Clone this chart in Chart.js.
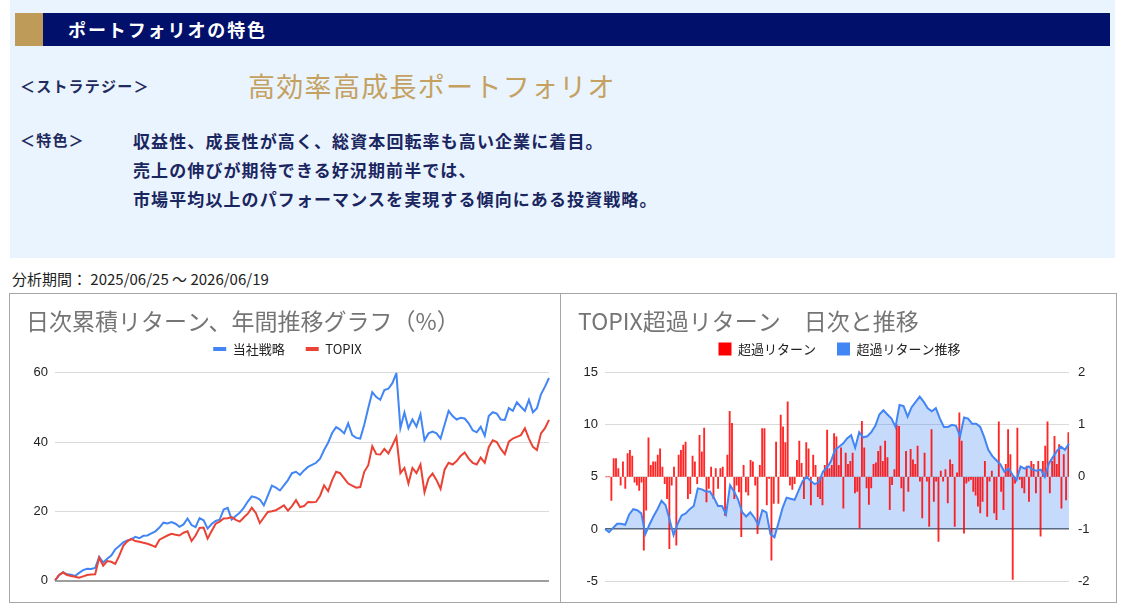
<!DOCTYPE html>
<html lang="ja">
<head>
<meta charset="utf-8">
<script src="https://cdn.jsdelivr.net/npm/chart.js@4.4.1/dist/chart.umd.min.js"></script>
<style>
  body { margin: 0; width: 1128px; height: 615px; overflow: hidden; background: #fff; position: relative;
         font-family: "Noto Sans CJK JP", "Noto Sans", sans-serif; }
  .abs { position: absolute; }
  .panel { left: 10px; top: 0; width: 1105px; height: 258px; background: #EAF4FE; }
  .gold { left: 15px; top: 13px; width: 28px; height: 33px; background: #BF9B5A; }
  .navy { left: 43px; top: 13px; width: 1067px; height: 33px; background: #00106B; }
  .head { left: 68px; top: 13px; line-height: 33px; color: #fff; font-size: 18px; font-weight: bold; letter-spacing: 1.9px; }
  .lbl { left: 20px; color: #1F2B5C; font-size: 15px; font-weight: bold; line-height: 20px; letter-spacing: 1.2px; }
  .strategy { left: 248px; top: 70px; line-height: 32px; font-size: 27px; color: #C4A160; letter-spacing: 1.3px; }
  .desc { left: 133px; top: 126px; line-height: 29px; font-size: 17px; font-weight: bold; color: #1A2660; letter-spacing: 1.1px; }
  .period { left: 12px; top: 270px; line-height: 18px; font-size: 15px; color: #222; }
  .box { top: 293px; height: 310px; border: 1px solid #A6A6A6; box-sizing: border-box; }
  #box1 { left: 9px; width: 552px; }
  #box2 { left: 560px; width: 557px; }
  canvas { display: block; }
</style>
</head>
<body>
<div class="abs panel"></div>
<div class="abs gold"></div>
<div class="abs navy"></div>
<div class="abs head">ポートフォリオの特色</div>
<div class="abs lbl" style="top:76px">＜ストラテジー＞</div>
<div class="abs strategy">高効率高成長ポートフォリオ</div>
<div class="abs lbl" style="top:130px">＜特色＞</div>
<div class="abs desc">収益性、成長性が高く、総資本回転率も高い企業に着目。<br>売上の伸びが期待できる好況期前半では、<br>市場平均以上のパフォーマンスを実現する傾向にある投資戦略。</div>
<div class="abs period">分析期間： 2025/06/25 ～ 2026/06/19</div>

<div class="abs box" id="box1"><canvas id="cumChart" width="550" height="308"></canvas></div>
<div class="abs box" id="box2"><canvas id="excessChart" width="555" height="308"></canvas></div>

<script>
// 日次累積リターン（%）
const stratReturn = [
  0, 1.5, 2.4, 1.8, 1.7, 1.3, 2.2, 3.0, 3.4, 3.3,
  3.6, 6.8, 5.2, 6.3, 7.2, 9.0, 10.0, 11.0, 11.6, 11.9,
  12.6, 12.2, 12.9, 13.0, 13.6, 14.2, 15.3, 16.7, 16.5, 16.9,
  16.4, 15.5, 16.2, 17.9, 16.0, 15.4, 18.0, 17.4, 15.0, 16.3,
  17.2, 17.6, 20.5, 21.0, 17.6, 18.6, 19.6, 21.0, 22.8, 24.3,
  24.0, 23.4, 21.7, 24.5, 27.4, 26.8, 26.0, 27.5, 29.0, 31.0,
  31.4, 30.5, 31.8, 32.8, 33.4, 34.0, 35.2, 37.7, 39.8, 42.6,
  44.3, 43.6, 42.5, 45.4, 42.0, 41.2, 41.0, 45.0, 49.8, 54.4,
  53.0, 52.2, 55.0, 55.4, 57.0, 59.9, 44.0, 48.5, 44.0, 46.5,
  44.5, 48.0, 40.5, 42.5, 43.0, 42.5, 41.0, 45.0, 49.0, 47.5,
  46.5, 47.0, 46.8, 45.4, 43.4, 42.8, 44.4, 41.8, 47.5, 48.6,
  48.2, 46.5, 46.4, 49.8, 49.0, 51.5, 50.2, 49.0, 52.2, 48.6,
  49.8, 53.8, 56.0, 58.5
];
const topixReturn = [
  0, 1.6, 2.3, 1.6, 1.3, 1.1, 0.8, 1.2, 1.6, 1.7,
  1.8, 6.6, 4.3, 5.6, 5.4, 4.8, 7.2, 10.0, 11.3, 12.0,
  11.4, 11.2, 10.9, 10.6, 10.2, 9.7, 11.8, 12.4, 13.0, 13.5,
  13.2, 13.0, 13.8, 14.2, 11.4, 13.0, 15.2, 15.3, 12.1, 14.3,
  16.4, 17.0, 17.9, 18.0, 18.3, 17.5, 17.0, 18.2, 19.3, 21.0,
  19.5, 16.6, 18.2, 19.8, 20.0, 20.3, 21.0, 21.7, 20.2, 21.5,
  23.2, 21.2, 21.5, 22.7, 22.6, 22.7, 24.5, 27.5, 25.8, 29.0,
  31.4, 31.0, 29.5, 28.0, 27.4, 26.8, 27.0, 31.4, 33.3, 38.8,
  36.5, 36.4, 38.0, 36.7, 39.0, 41.5, 31.0, 32.5, 28.0, 32.5,
  31.0, 33.5, 25.5, 29.5, 30.9, 29.0, 26.5, 32.0, 34.0, 33.5,
  34.5, 36.0, 37.0, 35.2, 34.0, 33.5, 35.5, 34.0, 38.5, 40.5,
  40.0, 38.0, 36.5, 40.1, 41.0, 41.5, 42.0, 44.0, 41.0, 38.6,
  37.7, 42.5, 44.0, 46.4
];

// TOPIX超過リターン 日次（右軸, %）
const excessDaily = [
  0, 0, 0,
  -0.45, 0.35, 0.35, 0.16, -0.16, 0.29, -0.22, 0.45, 0.51, 0.4,
  -0.1, -0.16, -0.26, -0.1, -1.41, -0.64, 0.75, 0.22, 0.29, 0.29,
  0.42, 0.54, 0.19, -0.13, -0.42, -1.38, -0.16, 0.19, -1.31, 0.42,
  0.51, 0.61, 0.67, -0.42, -0.32, 0.4, 0.29, -0.13, 0.8, 0.48,
  0.94, -0.48, -0.22, 0.19, -0.42, 0.16, -0.22, 0.16, 0.19, -0.74,
  0.42, 1.26, 1.03, -0.42, -0.16, -0.29, -1.15, 0.22, -0.29, -0.35,
  0.32, 0.29, -0.16, -1.09, 0.22, 0.93, 0.93, -0.54, -0.03, -1.6,
  -0.51, 0.67, -0.51, 1.19, 0.96, 0.66, 1.44, -0.16, -0.24, -0.13,
  0.32, 0.69, 0.26, -0.42, 0.66, 0.54, -0.54, 0.42, 0.22, -0.38,
  -0.42, -0.54, 0.22, 0.9, 0.16, 0.22, 0.83, 0.77, 0.22,
  0.56, -0.6, 0.46, 0.24, 0.3, 0.46, -0.31, -0.28, -0.98, 1.07,
  0.56, -0.21, -0.53, -0.21, 0.24, 0.27, 0.49, 0.59, 0.3, 0.69,
  0.37, -0.63, -0.15, 0.14, 1.0, 0.97, -0.21, -0.66, 0.49, -0.28,
  0.53, 0.33, 0.24, 0.59, -0.08, -0.79, 0.46, -0.08, -0.95, 0.91,
  -0.47, -0.08, -1.24, 0.11, -0.08, 0.14, -0.5, 0.33, 0.24, -0.95,
  0.08, 1.23, 0.69, -1.08, -0.12, -0.08, -0.05, -0.28, -0.35, -0.56,
  -0.69, -0.47, 0.3, -0.76, -0.08, 0.11, -0.69, -0.82, 1.06, -0.28,
  -0.63, 0.24, 0.91, 0.43, -1.97, -0.12, 0.94, -0.05, -0.21, -0.31,
  0.21, -0.47, 0.3, 0.24, -0.31, 0.3, -1.14, 0.3, 0.59, 1.06,
  -0.31, 0.3, 0.78, 0.24, 0.62, -0.6, 0.43, -0.44, 0.85
];
// TOPIX超過リターン 推移（左軸, %）
const excessCum = [
  0.0, -0.3, 0.1, 0.5, 0.5, 0.4, 1.4, 1.9, 1.8, 1.5,
  -0.5, 0.4, 1.2, 1.9, 2.7, 2.3, 0.9, -0.6, 0.5, 1.3,
  1.5, 1.9, 2.2, 3.9, 3.8, 3.6, 3.6, 3.0, 2.2, 2.2,
  1.4, 4.2, 3.6, 2.8, 1.6, 1.2, 1.6, 1.1, 0.4, 1.8,
  1.6, -0.5, -0.8, 0.6, 2.0, 3.0, 2.9, 2.8, 3.7, 4.6,
  5.0, 4.6, 4.3, 4.5, 5.5, 5.9, 6.5, 7.6, 7.9, 8.2,
  8.7, 9.0, 7.8, 9.3, 8.8, 8.9, 9.3, 9.9, 11.0, 11.4,
  11.0, 10.6, 9.8, 11.9, 11.8, 10.8, 11.7, 12.2, 12.7, 12.2,
  11.6, 11.3, 11.6, 10.6, 9.8, 9.8, 10.0, 9.9, 8.9, 10.7,
  10.6, 10.1, 10.1, 9.8, 8.8, 7.6, 7.0, 6.6, 6.2, 5.5,
  5.8, 5.2, 4.7, 6.0, 5.8, 6.0, 5.7, 5.6, 5.7, 5.0,
  6.3, 6.9, 7.5, 7.9, 7.6, 8.2
];

const leftTicks = { min: 0, max: 60, step: 20 };
const cumAxis = { min: -5, max: 15, step: 5 };
const dailyAxis = { min: -2, max: 2, step: 1 };

const jpFont = "'Noto Sans CJK JP', 'Noto Sans', sans-serif";
const numFont = "'Liberation Sans', Arial, sans-serif";
Chart.defaults.font.family = jpFont;
Chart.defaults.color = '#222';

const titleOpts = text => ({
  display: true, text: text, align: 'start', color: '#757575',
  font: { family: jpFont, size: 23, weight: 'normal', lineHeight: 1.2 },
  padding: { top: 13.2, bottom: -13.3 }
});
// empty subtitle used as a small gap under the legend
const spacer = { display: true, text: '', weight: 500, font: { size: 1, lineHeight: 1 }, padding: { top: 0, bottom: 6.3 } };

function solidLabels(chart) {
  const items = Chart.defaults.plugins.legend.labels.generateLabels(chart);
  items.forEach(it => {
    const ds = chart.data.datasets[it.datasetIndex];
    it.fillStyle = ds.borderColor || ds.backgroundColor;
    it.strokeStyle = 'rgba(0,0,0,0)';
    it.lineWidth = 0;
  });
  return items;
}

const days1 = stratReturn.map((v, i) => i);
new Chart(document.getElementById('cumChart'), {
  type: 'line',
  data: {
    labels: days1,
    datasets: [
      { label: '当社戦略', data: stratReturn, borderColor: '#4285F4', backgroundColor: '#4285F4',
        borderWidth: 2, pointRadius: 0, tension: 0, order: 1 },
      { label: 'TOPIX', data: topixReturn, borderColor: '#EA4335', backgroundColor: '#EA4335',
        borderWidth: 2, pointRadius: 0, tension: 0, order: 0 }
    ]
  },
  options: {
    responsive: false, animation: false,
    layout: { padding: { left: 16, right: 11, top: 0, bottom: 21.5 } },
    plugins: {
      title: titleOpts('日次累積リターン、年間推移グラフ（%）'),
      subtitle: spacer,
      legend: {
        labels: { boxWidth: 13, boxHeight: 4, padding: 21, color: '#222',
                  font: { size: 13, family: jpFont }, generateLabels: solidLabels,
                  sort: (a, b) => a.datasetIndex - b.datasetIndex }
      },
      tooltip: { enabled: false }
    },
    scales: {
      x: { display: false },
      y: {
        min: leftTicks.min, max: leftTicks.max,
        afterFit: s => { s.width = 29; },
        border: { display: false },
        grid: { drawTicks: false,
                color: c => c.tick.value === 0 ? '#9E9E9E' : '#DADADA',
                lineWidth: c => c.tick.value === 0 ? 2 : 1 },
        ticks: { stepSize: leftTicks.step, padding: 7, color: '#222', font: { size: 13, family: numFont } }
      }
    }
  }
});

const days2 = excessCum.map((v, i) => i);
const barDays = excessDaily.map((v, i) => i);
new Chart(document.getElementById('excessChart'), {
  type: 'bar',
  data: {
    labels: days2,
    datasets: [
      { type: 'bar', label: '超過リターン', data: excessDaily, xAxisID: 'xb', yAxisID: 'y1',
        backgroundColor: 'rgba(255,0,0,0.85)', borderColor: '#FF0000', borderWidth: 0, barThickness: 1.2, order: 1 },
      { type: 'line', label: '超過リターン推移', data: excessCum, xAxisID: 'x', yAxisID: 'y',
        borderColor: '#4285F4', backgroundColor: 'rgba(66,133,244,0.3)', borderWidth: 2,
        pointRadius: 0, tension: 0, fill: 'origin', order: 0 }
    ]
  },
  options: {
    responsive: false, animation: false,
    layout: { padding: { left: 17, right: 15, top: 0, bottom: 21 } },
    plugins: {
      filler: { drawTime: 'beforeDatasetsDraw' },
      title: titleOpts('TOPIX超過リターン　日次と推移'),
      subtitle: spacer,
      legend: {
        labels: { boxWidth: 13, boxHeight: 13, padding: 21, color: '#222',
                  font: { size: 13, family: jpFont }, generateLabels: solidLabels,
                  sort: (a, b) => a.datasetIndex - b.datasetIndex }
      },
      tooltip: { enabled: false }
    },
    scales: {
      x: { display: false, offset: false },
      xb: { type: 'category', labels: barDays, display: false, offset: false },
      y: {
        position: 'left', min: cumAxis.min, max: cumAxis.max,
        afterFit: s => { s.width = 27; },
        border: { display: false },
        grid: { drawTicks: false,
                color: c => c.tick.value === 0 ? '#5F5F5F' : '#DADADA',
                lineWidth: c => c.tick.value === 0 ? 1.5 : 1 },
        ticks: { stepSize: cumAxis.step, padding: 7, color: '#222', font: { size: 13, family: numFont } }
      },
      y1: {
        position: 'right', min: dailyAxis.min, max: dailyAxis.max,
        afterFit: s => { s.width = 32; },
        border: { display: false },
        grid: { drawOnChartArea: false, drawTicks: false },
        ticks: { stepSize: dailyAxis.step, padding: 9, color: '#222', font: { size: 13, family: numFont } }
      }
    }
  }
});
</script>
</body>
</html>
